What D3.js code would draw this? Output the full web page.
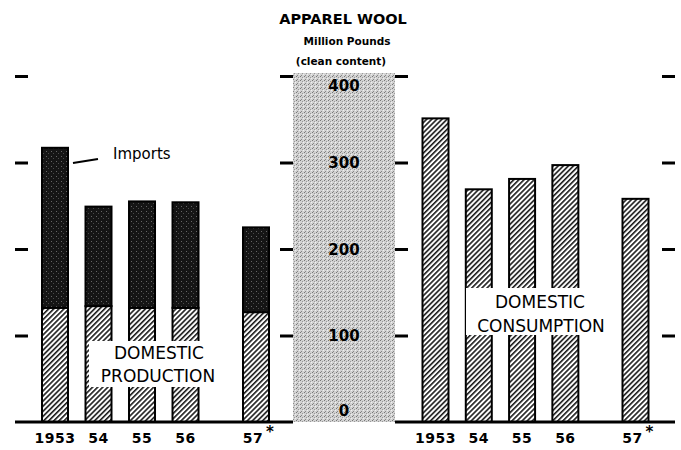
<!DOCTYPE html>
<html>
<head>
<meta charset="utf-8">
<script src="https://cdn.jsdelivr.net/npm/d3@7"></script>
<style>
  body { margin: 0; background: #fff; }
  svg { display: block; font-family: "DejaVu Sans", sans-serif; }
</style>
</head>
<body>
<div id="chart"></div>
<script>
// data (million pounds, clean content)
var years = ["1953", "54", "55", "56", "57"];
var production = [132, 134, 132, 132, 127];
var imports = [185, 115, 123, 122, 98];
var consumption = [351, 269, 281, 297, 258];
var tickValues = [0, 100, 200, 300, 400];

var width = 681, height = 450;
var svg = d3.select('#chart').append('svg').attr('width', width).attr('height', height);
var defs = svg.append('defs');

// hatching for domestic bars
var hatch = defs.append('pattern').attr('id', 'hatch').attr('patternUnits', 'userSpaceOnUse')
  .attr('width', 3.6).attr('height', 3.6).attr('patternTransform', 'rotate(45)');
hatch.append('rect').attr('width', 3.6).attr('height', 3.6).attr('fill', '#fff');
hatch.append('rect').attr('width', 1.6).attr('height', 3.6).attr('fill', '#1a1a1a');

// speckled black for imports
var dark = defs.append('pattern').attr('id', 'dark').attr('patternUnits', 'userSpaceOnUse')
  .attr('width', 5).attr('height', 5);
dark.append('rect').attr('width', 5).attr('height', 5).attr('fill', '#151515');
dark.append('rect').attr('x', 1).attr('y', 1).attr('width', 1).attr('height', 1).attr('fill', '#666');
dark.append('rect').attr('x', 3).attr('y', 3).attr('width', 1).attr('height', 1).attr('fill', '#4a4a4a');

// stipple for the centre band
var stip = defs.append('pattern').attr('id', 'stip').attr('patternUnits', 'userSpaceOnUse')
  .attr('width', 4).attr('height', 4);
stip.append('rect').attr('width', 4).attr('height', 4).attr('fill', '#d2d2d2');
stip.append('rect').attr('x', 0).attr('y', 0).attr('width', 1).attr('height', 1).attr('fill', '#777');
stip.append('rect').attr('x', 2).attr('y', 1).attr('width', 1).attr('height', 1).attr('fill', '#999');
stip.append('rect').attr('x', 1).attr('y', 3).attr('width', 1).attr('height', 1).attr('fill', '#888');
stip.append('rect').attr('x', 3).attr('y', 2).attr('width', 1).attr('height', 1).attr('fill', '#f0f0f0');

var y = d3.scaleLinear().domain([0, 400]).range([422, 76]);
// 1957 is set apart from the others
function slot(i) { return i < 4 ? i : i + 0.62; }
var xLeft = d3.scaleLinear().domain([0, 4.62]).range([55, 256]);
var xRight = d3.scaleLinear().domain([0, 4.62]).range([435.5, 635.5]);
var barW = 26;

// centre band
svg.append('rect').attr('x', 293).attr('y', 73).attr('width', 102).attr('height', y(0) - 73)
  .attr('fill', 'url(#stip)');

// titles
svg.append('text').attr('x', 343).attr('y', 24).attr('text-anchor', 'middle')
  .attr('font-weight', 'bold').attr('font-size', 14.5).text('APPAREL WOOL');
svg.append('text').attr('x', 347).attr('y', 45).attr('text-anchor', 'middle')
  .attr('font-weight', 'bold').attr('font-size', 10.5).text('Million Pounds');
svg.append('text').attr('x', 341).attr('y', 65).attr('text-anchor', 'middle')
  .attr('font-weight', 'bold').attr('font-size', 10.5).text('(clean content)');

// tick marks on four edges
function ticks(x, dir) {
  var ax = (dir < 0 ? d3.axisLeft(y) : d3.axisRight(y))
    .tickValues(tickValues.slice(1)).tickFormat('').tickSize(13);
  var g = svg.append('g').attr('transform', 'translate(' + x + ',0)').call(ax);
  g.select('.domain').remove();
  g.selectAll('line').attr('stroke', '#000').attr('stroke-width', 3);
}
ticks(28, -1);
ticks(293, -1);
ticks(395, 1);
ticks(662, 1);

// band labels
var lab = svg.append('g').attr('transform', 'translate(344,0)')
  .call(d3.axisRight(y).tickValues(tickValues).tickSize(0).tickPadding(0));
lab.select('.domain').remove();
lab.selectAll('text').attr('text-anchor', 'middle').attr('font-size', 15)
  .attr('font-family', '"DejaVu Sans", sans-serif').attr('font-weight', 'bold').attr('fill', '#000')
  .attr('dy', function(d) { return d === 400 ? '0.95em' : d === 0 ? '-0.45em' : '0.35em'; });

// left panel: stacked bars
var left = svg.append('g');
left.selectAll('rect.prod').data(production).join('rect').attr('class', 'prod')
  .attr('x', function(d, i) { return xLeft(slot(i)) - barW / 2; })
  .attr('y', function(d) { return y(d); })
  .attr('width', barW).attr('height', function(d) { return y(0) - y(d); })
  .attr('fill', 'url(#hatch)').attr('stroke', '#000').attr('stroke-width', 2);
left.selectAll('rect.imp').data(imports).join('rect').attr('class', 'imp')
  .attr('x', function(d, i) { return xLeft(slot(i)) - barW / 2; })
  .attr('y', function(d, i) { return y(production[i] + d); })
  .attr('width', barW).attr('height', function(d, i) { return y(production[i]) - y(production[i] + d); })
  .attr('fill', 'url(#dark)').attr('stroke', '#000').attr('stroke-width', 2);

// right panel: consumption
var right = svg.append('g');
right.selectAll('rect').data(consumption).join('rect')
  .attr('x', function(d, i) { return xRight(slot(i)) - barW / 2; })
  .attr('y', function(d) { return y(d); })
  .attr('width', barW).attr('height', function(d) { return y(0) - y(d); })
  .attr('fill', 'url(#hatch)').attr('stroke', '#000').attr('stroke-width', 2);

// baselines
svg.append('line').attr('x1', 15).attr('x2', 293).attr('y1', y(0)).attr('y2', y(0))
  .attr('stroke', '#000').attr('stroke-width', 3);
svg.append('line').attr('x1', 395).attr('x2', 675).attr('y1', y(0)).attr('y2', y(0))
  .attr('stroke', '#000').attr('stroke-width', 3);

// year labels
[xLeft, xRight].forEach(function(xs) {
  var g = svg.append('g');
  g.selectAll('text').data(years).join('text')
    .attr('x', function(d, i) { return xs(slot(i)) - (i === 4 ? 3 : 0); })
    .attr('y', 443).attr('text-anchor', 'middle').attr('font-size', 14)
    .attr('font-weight', 'bold').attr('letter-spacing', 0.5).text(function(d) { return d; });
  g.append('text').attr('x', xs(slot(4)) + 10).attr('y', 437).attr('font-size', 15)
    .attr('font-weight', 'bold').text('*');
});

// imports label with leader
svg.append('line').attr('x1', 73).attr('y1', 163).attr('x2', 98).attr('y2', 159)
  .attr('stroke', '#000').attr('stroke-width', 2);
svg.append('text').attr('x', 113).attr('y', 159).attr('font-size', 15).text('Imports');

// white label boxes over bars
svg.append('rect').attr('x', 89).attr('y', 341).attr('width', 134).attr('height', 46).attr('fill', '#fff');
svg.append('text').attr('x', 159).attr('y', 359).attr('text-anchor', 'middle').attr('font-size', 17)
  .text('DOMESTIC');
svg.append('text').attr('x', 158).attr('y', 382).attr('text-anchor', 'middle').attr('font-size', 17)
  .text('PRODUCTION');
svg.append('rect').attr('x', 466).attr('y', 288).attr('width', 146).attr('height', 47).attr('fill', '#fff');
svg.append('text').attr('x', 540).attr('y', 308).attr('text-anchor', 'middle').attr('font-size', 17)
  .text('DOMESTIC');
svg.append('text').attr('x', 541).attr('y', 332).attr('text-anchor', 'middle').attr('font-size', 17)
  .text('CONSUMPTION');
</script>
</body>
</html>
